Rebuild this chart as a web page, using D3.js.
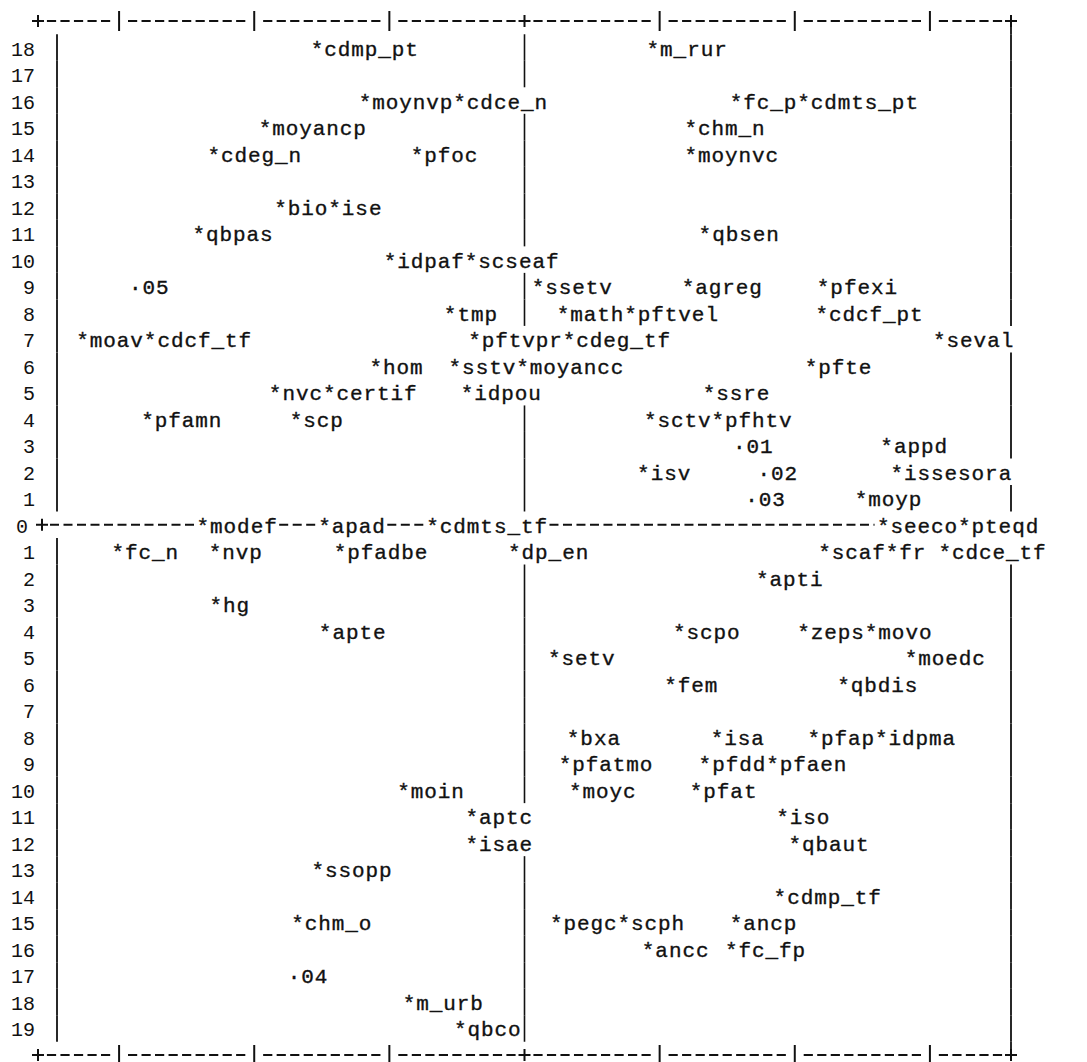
<!DOCTYPE html>
<html>
<head>
<meta charset="utf-8">
<script src="https://cdn.jsdelivr.net/npm/d3@7/dist/d3.min.js"></script>
<style>
html,body{margin:0;padding:0;background:#fff;}
svg{display:block;}
</style>
</head>
<body>
<script>
// ---- data ----
// x: horizontal position in print columns from the centre reference line, y: row value
const pointNames = ["cdmp_pt","m_rur","moynvp","cdce_n","fc_p","cdmts_pt","moyancp","chm_n","cdeg_n","pfoc","moynvc",
  "bio","ise","qbpas","qbsen","idpaf","scseaf","ssetv","agreg","pfexi","tmp","math","pftvel","cdcf_pt",
  "moav","cdcf_tf","pftvpr","cdeg_tf","seval","hom","sstv","moyancc","pfte","nvc","certif","idpou","ssre",
  "pfamn","scp","sctv","pfhtv","appd","isv","issesora","moyp","modef","apad","cdmts_tf","seeco","pteqd",
  "fc_n","nvp","pfadbe","dp_en","scaf","fr","cdce_tf","apti","hg","apte","scpo","zeps","movo","setv","moedc",
  "fem","qbdis","bxa","isa","pfap","idpma","pfatmo","pfdd","pfaen","moin","moyc","pfat","aptc","iso","isae",
  "qbaut","ssopp","cdmp_tf","chm_o","pegc","scph","ancp","ancc","fc_fp","m_urb","qbco"];
const pointX = [-15.35,9.5,-11.8,-4.8,15.65,20.65,-19.2,12.3,-23.0,-7.95,12.3,
  -18.05,-14.05,-24.1,13.35,-9.95,-3.95,1.0,12.1,22.1,-5.5,2.85,7.85,22.0,
  -32.7,-27.7,-3.7,3.3,30.7,-11.0,-5.15,-0.15,21.2,-18.45,-14.45,-4.25,13.65,
  -27.9,-16.9,9.3,14.3,26.8,8.8,27.55,24.9,-23.8,-14.8,-6.8,26.55,32.55,
  -30.1,-22.9,-13.65,-0.75,22.2,27.2,31.1,17.6,-22.85,-14.75,11.45,20.65,25.65,2.2,28.6,
  10.8,23.6,3.6,14.25,21.4,26.4,3.0,13.35,18.35,-8.95,3.75,12.7,-3.9,19.1,-3.9,
  20.0,-15.3,18.9,-16.8,2.35,7.35,15.65,9.15,15.3,-8.55,-4.75];
const pointY = [18,18,16,16,16,16,15,15,14,14,14,
  12,12,11,11,10,10,9,9,9,8,8,8,8,
  7,7,7,7,7,6,6,6,6,5,5,5,5,
  4,4,4,4,3,2,2,1,0,0,0,0,0,
  -1,-1,-1,-1,-1,-1,-1,-2,-3,-4,-4,-4,-4,-5,-5,
  -6,-6,-8,-8,-8,-8,-9,-9,-9,-10,-10,-10,-11,-11,-12,
  -12,-13,-14,-15,-15,-15,-15,-16,-16,-18,-19];
// supplementary points (dot symbol)
const suppNames = ["01","02","03","04","05"];
const suppX = [15.9,17.7,16.8,-17.05,-28.8];
const suppY = [3,2,1,-17,9];
// axes
const yTickValues = [18,17,16,15,14,13,12,11,10,9,8,7,6,5,4,3,2,1,0,-1,-2,-3,-4,-5,-6,-7,-8,-9,-10,-11,-12,-13,-14,-15,-16,-17,-18,-19];
const yTickLabels = ["18","17","16","15","14","13","12","11","10","9","8","7","6","5","4","3","2","1","0","1","2","3","4","5","6","7","8","9","10","11","12","13","14","15","16","17","18","19"];
const xTickValues = [-30,-20,-10,10,20,30];
const xFrameCorners = [-36,0,36];
const yFrameRows = [19,-20];

// ---- drawing ----
const W = 1087, H = 1062;
const INK = "#111";
const FONT = "'Liberation Mono', 'DejaVu Sans Mono', monospace";
const FS = 21;
const svg = d3.select("body").append("svg").attr("width", W).attr("height", H);
svg.append("rect").attr("width", W).attr("height", H).attr("fill", "#fff");

const x = d3.scaleLinear().domain([-36, 36]).range([38, 1011]);
const y = d3.scaleLinear().domain([19, -20]).range([21, 1055]);
const rowH = y(0) - y(1);
const TW = x(1) - x(0);   // printed character pitch
const GLYPH = FS * 0.6;   // glyph advance of the font
const BASE = 8;           // baseline offset from row centre
const leftAxisX = x.range()[0] + 19;

const marks = pointNames.map((n, i) => ({text: "*" + n, x: pointX[i], y: pointY[i]}))
  .concat(suppNames.map((n, i) => ({text: "\u00B7" + n, x: suppX[i], y: suppY[i]})));
marks.forEach(d => {
  d.px = x(d.x); d.py = y(d.y);
  d.centers = d3.range(d.text.length).map(i => d.px + i * TW);
  d.x0 = d.px - TW / 2;
  d.x1 = d.px + (d.text.length - 1) * TW + TW / 2;
});
function covered(row, px, tol) {
  return marks.some(d => d.y === row && d.centers.some(c => Math.abs(c - px) < tol));
}

// frame (top and bottom rules)
const dashCells = d3.range(-35, 36).filter(c => !xTickValues.includes(c) && !xFrameCorners.includes(c));
yFrameRows.forEach(v => {
  const g = svg.append("g").attr("class", "frame");
  g.selectAll("line.dash").data(dashCells).join("line").attr("class", "dash")
    .attr("x1", c => x(c) - 4.6).attr("x2", c => x(c) + 4.6)
    .attr("y1", y(v)).attr("y2", y(v))
    .attr("stroke", INK).attr("stroke-width", 2);
  g.selectAll("line.tick").data(xTickValues).join("line").attr("class", "tick")
    .attr("x1", c => x(c)).attr("x2", c => x(c))
    .attr("y1", y(v) - 10).attr("y2", y(v) + 10)
    .attr("stroke", INK).attr("stroke-width", 2);
  g.selectAll("path.plus").data(xFrameCorners).join("path").attr("class", "plus")
    .attr("d", c => `M${x(c) - 6},${y(v)}H${x(c) + 6}M${x(c)},${y(v) - 6}V${y(v) + 6}`)
    .attr("stroke", INK).attr("stroke-width", 2).attr("fill", "none");
});

// vertical axis line (left) and right frame
const rows = yTickValues.filter(v => v !== 0);
svg.append("g").selectAll("line").data(rows).join("line")
  .attr("x1", leftAxisX).attr("x2", leftAxisX)
  .attr("y1", v => y(v) - rowH / 2).attr("y2", v => y(v) + rowH / 2)
  .attr("stroke", INK).attr("stroke-width", 1.8);
svg.append("g").selectAll("line").data(yTickValues.filter(v => !covered(v, x(36), 7))).join("line")
  .attr("x1", x(36)).attr("x2", x(36))
  .attr("y1", v => y(v) - rowH / 2).attr("y2", v => y(v) + rowH / 2)
  .attr("stroke", INK).attr("stroke-width", 1.8);
svg.append("line").attr("x1", x(36)).attr("x2", x(36))
  .attr("y1", y(19) + 6).attr("y2", y(18) - rowH / 2).attr("stroke", INK).attr("stroke-width", 1.8);
svg.append("line").attr("x1", x(36)).attr("x2", x(36))
  .attr("y1", y(-19) + rowH / 2).attr("y2", y(-20) - 6).attr("stroke", INK).attr("stroke-width", 1.8);

// centre reference line (x = 0), interrupted by labels
svg.append("g").selectAll("line").data(rows.filter(v => !covered(v, x(0), 7))).join("line")
  .attr("x1", x(0)).attr("x2", x(0))
  .attr("y1", v => y(v) - rowH / 2).attr("y2", v => y(v) + rowH / 2)
  .attr("stroke", INK).attr("stroke-width", 1.6);

// horizontal reference line (y = 0) as dashes, interrupted by labels
const plusX = x(-36) + 4;
svg.append("path")
  .attr("d", `M${plusX - 6},${y(0)}H${plusX + 6}M${plusX},${y(0) - 6}V${y(0) + 6}`)
  .attr("stroke", INK).attr("stroke-width", 2).attr("fill", "none");
const zeroMarks = marks.filter(d => d.y === 0).sort((a, b) => a.px - b.px);
const segs = [];
let cur = plusX + 8;
zeroMarks.forEach(d => { if (d.x0 - 2 - cur > 5) segs.push([cur, d.x0 - 2]); cur = Math.max(cur, d.x1 + 2); });
if (x(36) - cur > 5) segs.push([cur, x(36)]);
svg.append("g").selectAll("line").data(segs).join("line")
  .attr("x1", s => s[0]).attr("x2", s => s[1])
  .attr("y1", y(0)).attr("y2", y(0))
  .attr("stroke", INK).attr("stroke-width", 2).attr("stroke-dasharray", "9,4.5");

// y tick labels
svg.append("g").selectAll("text").data(yTickValues).join("text")
  .attr("x", v => v === 0 ? 28 : 35)
  .attr("y", v => y(v) + BASE)
  .attr("text-anchor", "end")
  .attr("font-family", FONT).attr("font-size", 20).attr("fill", INK)
  .text((v, i) => yTickLabels[i]);

// point labels
svg.append("g").selectAll("text").data(marks).join("text")
  .attr("x", d => d.px - GLYPH / 2)
  .attr("y", d => d.py + BASE)
  .attr("font-family", FONT).attr("font-size", FS)
  .style("letter-spacing", (TW - GLYPH) + "px")
  .attr("fill", INK).attr("stroke", INK).attr("stroke-width", 0.35)
  .text(d => d.text);
</script>
</body>
</html>
